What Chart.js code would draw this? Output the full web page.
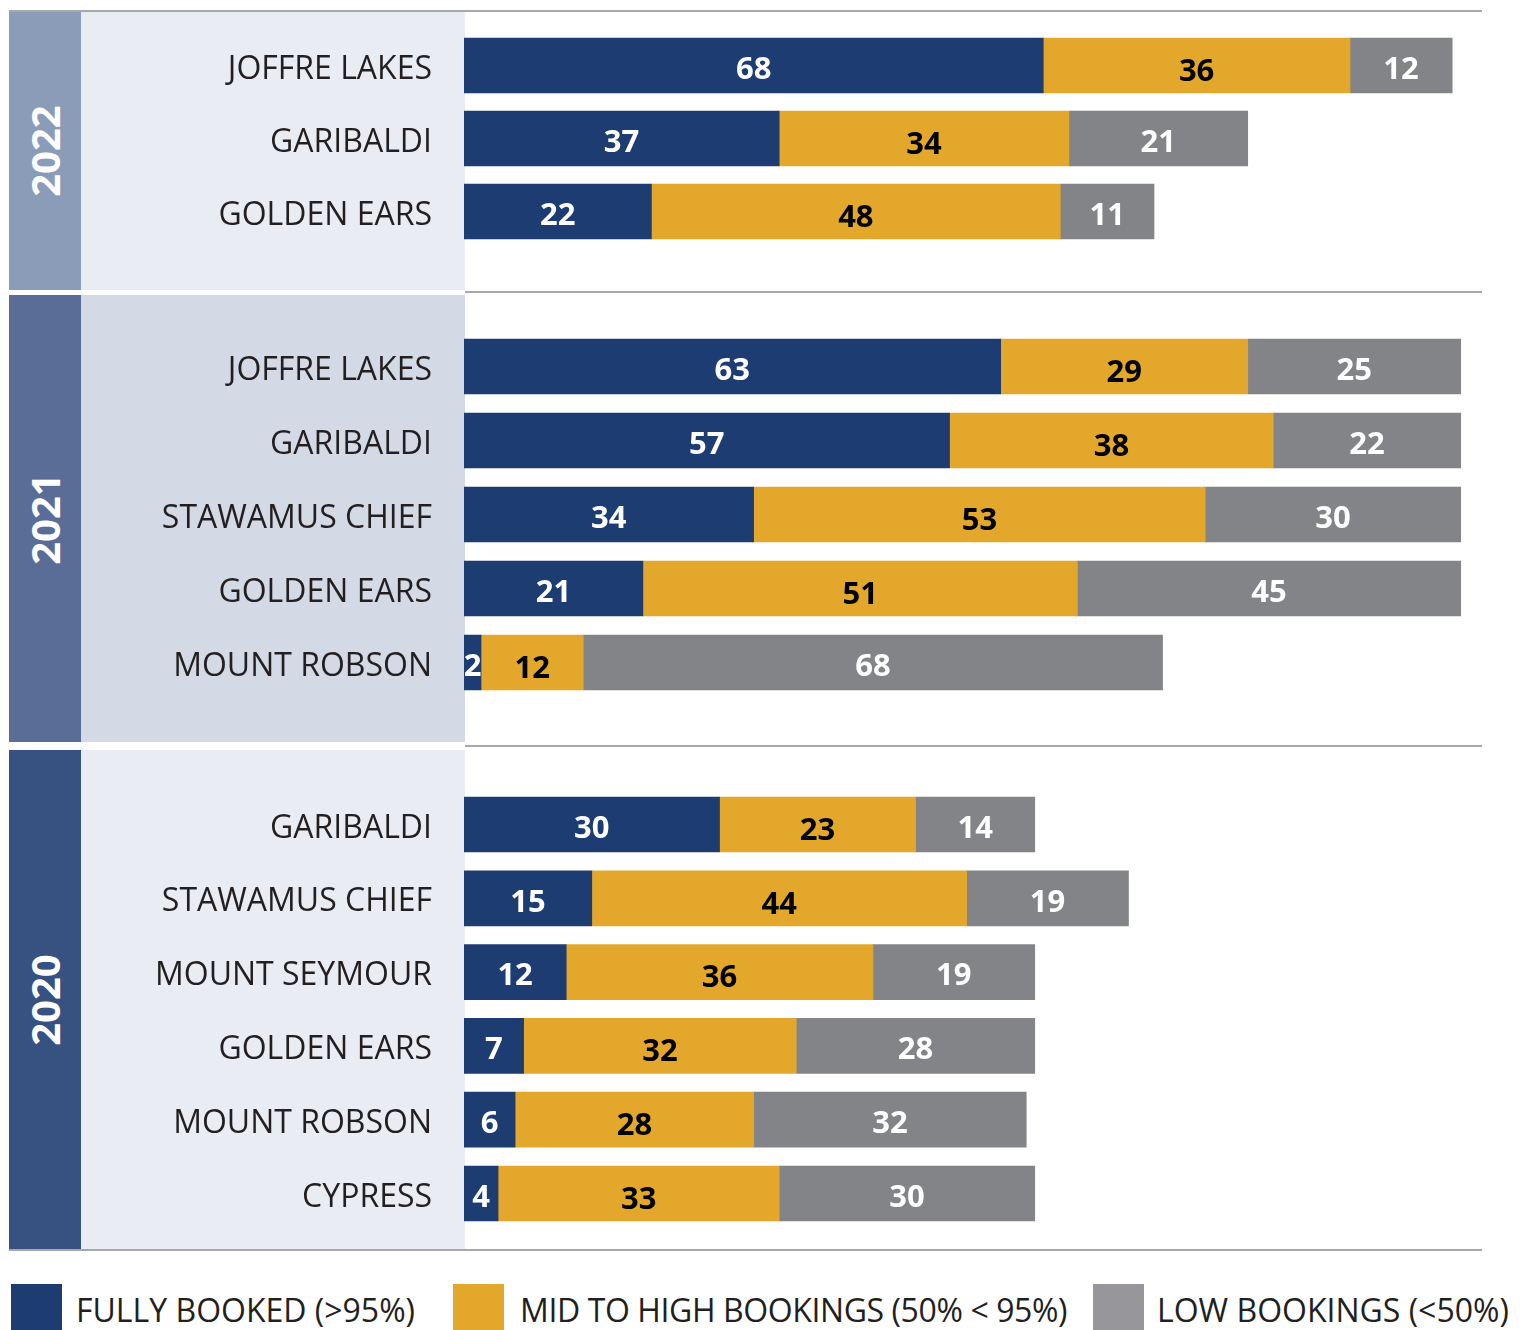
<!DOCTYPE html>
<html>
<head>
<meta charset="utf-8">
<script src="https://cdn.jsdelivr.net/npm/chart.js@4.4.1/dist/chart.umd.min.js"></script>
<style>
  body { margin: 0; background: #fff; font-family: "Open Sans", sans-serif; }
  #page { position: relative; width: 1522px; height: 1330px; overflow: hidden; }
  .abs { position: absolute; }
  .year {
    position: absolute; color: #fff; font-weight: bold; font-size: 40px;
    width: 200px; text-align: center; line-height: 40px;
    transform: translate(-50%, -50%) rotate(-90deg);
  }
  .rule { position: absolute; height: 2px; background: #a8a8a8; }
  .legend-box { position: absolute; top: 1284px; width: 51px; height: 60px; }
  .legend-text { position: absolute; top: 1294px; font-size: 32px; line-height: 32px; color: #231f20; white-space: nowrap; }
</style>
</head>
<body>
<div id="page"></div>
<script>
/* ================= DATA ================= */
const years = ["2022", "2021", "2020"];
const seriesNames = ["FULLY BOOKED (>95%)", "MID TO HIGH BOOKINGS (50% < 95%)", "LOW BOOKINGS (<50%)"];

const parks2022 = ["JOFFRE LAKES", "GARIBALDI", "GOLDEN EARS"];
const full2022 = [68, 37, 22];
const mid2022 = [36, 34, 48];
const low2022 = [12, 21, 11];

const parks2021 = ["JOFFRE LAKES", "GARIBALDI", "STAWAMUS CHIEF", "GOLDEN EARS", "MOUNT ROBSON"];
const full2021 = [63, 57, 34, 21, 2];
const mid2021 = [29, 38, 53, 51, 12];
const low2021 = [25, 22, 30, 45, 68];

const parks2020 = ["GARIBALDI", "STAWAMUS CHIEF", "MOUNT SEYMOUR", "GOLDEN EARS", "MOUNT ROBSON", "CYPRESS"];
const full2020 = [30, 15, 12, 7, 6, 4];
const mid2020 = [23, 44, 36, 32, 28, 33];
const low2020 = [14, 19, 19, 28, 32, 30];

/* ================= STYLE ================= */
const colors = ["#1d3d72", "#e3a82b", "#838487"];
const legendColors = ["#1d3d72", "#e3a82b", "#97979b"];
const labelColors = ["#ffffff", "#000000", "#ffffff"];
const labelShift = [4.5, 6.5, 4.5];

const groups = [
  { year: years[0], parks: parks2022, values: [full2022, mid2022, low2022],
    top: 12, height: 278, band: "#8b9cb8", panel: "#e9ecf2", padTop: 17, padBottom: 42 },
  { year: years[1], parks: parks2021, values: [full2021, mid2021, low2021],
    top: 295, height: 447, band: "#5a6d96", panel: "#d3d9e5", padTop: 34.5, padBottom: 42.5 },
  { year: years[2], parks: parks2020, values: [full2020, mid2020, low2020],
    top: 750, height: 500, band: "#375280", panel: "#e9ecf2", padTop: 37.6, padBottom: 19.6 }
];

const page = document.getElementById("page");

function addDiv(cls, css, text) {
  const d = document.createElement("div");
  d.className = cls;
  Object.assign(d.style, css);
  if (text !== undefined) d.textContent = text;
  page.appendChild(d);
  return d;
}

/* value labels inside each bar segment */
const barLabels = {
  id: "barLabels",
  afterDatasetsDraw(chart) {
    const ctx = chart.ctx;
    chart.data.datasets.forEach((ds, i) => {
      const meta = chart.getDatasetMeta(i);
      meta.data.forEach((bar, j) => {
        ctx.save();
        ctx.font = 'bold 31px "Open Sans"';
        ctx.fillStyle = labelColors[i];
        ctx.textAlign = "center";
        ctx.textBaseline = "middle";
        ctx.fillText(String(ds.data[j]), (bar.x + bar.base) / 2, bar.y + labelShift[i]);
        ctx.restore();
      });
    });
  }
};

/* ================= GROUPS ================= */
groups.forEach(g => {
  addDiv("abs", { left: "9px", top: g.top + "px", width: "72px", height: g.height + "px", background: g.band });
  addDiv("abs", { left: "81px", top: g.top + "px", width: "384px", height: g.height + "px", background: g.panel });
  addDiv("year", { left: "45px", top: (g.top + g.height / 2) + "px" }, g.year);

  const wrap = addDiv("abs", { left: "0px", top: g.top + "px", width: "1522px", height: g.height + "px" });
  const canvas = document.createElement("canvas");
  wrap.appendChild(canvas);

  new Chart(canvas, {
    type: "bar",
    data: {
      labels: g.parks,
      datasets: g.values.map((vals, i) => ({
        label: seriesNames[i],
        data: vals,
        backgroundColor: colors[i],
        borderWidth: 0,
        barThickness: 55
      }))
    },
    options: {
      indexAxis: "y",
      responsive: true,
      maintainAspectRatio: false,
      animation: false,
      layout: { padding: { top: g.padTop, bottom: g.padBottom, left: 0, right: 40 } },
      plugins: { legend: { display: false }, tooltip: { enabled: false } },
      scales: {
        x: { stacked: true, display: false, min: 0, max: 119.5 },
        y: {
          stacked: true,
          grid: { display: false, drawTicks: false },
          border: { display: false },
          ticks: {
            padding: 32,
            labelOffset: 4,
            color: "#231f20",
            font: { family: "Open Sans", size: 32 }
          },
          afterFit(scale) {
            scale.width = 464;
            scale.paddingTop = 0;
            scale.paddingBottom = 0;
          }
        }
      }
    },
    plugins: [barLabels]
  });
});

/* ================= RULES ================= */
addDiv("rule", { left: "9px", top: "10px", width: "1473px" });
addDiv("rule", { left: "465px", top: "291px", width: "1017px" });
addDiv("rule", { left: "465px", top: "745px", width: "1017px" });
addDiv("rule", { left: "9px", top: "1249px", width: "1473px" });

/* ================= LEGEND ================= */
const legendBoxX = [11, 453, 1093];
const legendTextX = [76, 520, 1157];
const legendSpacing = ["0px", "-0.4px", "0px"];
seriesNames.forEach((name, i) => {
  addDiv("legend-box", { left: legendBoxX[i] + "px", background: legendColors[i] });
  addDiv("legend-text", { left: legendTextX[i] + "px", letterSpacing: legendSpacing[i] }, name);
});
</script>
</body>
</html>
